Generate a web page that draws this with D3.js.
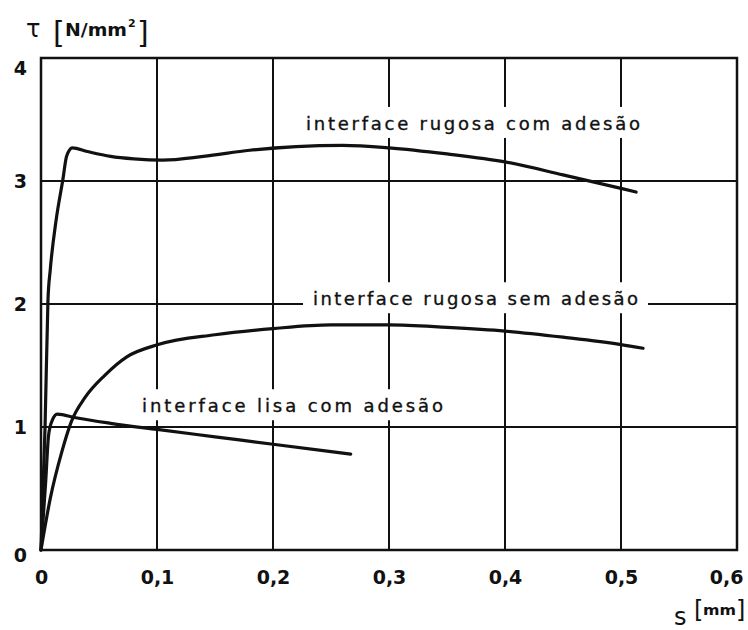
<!DOCTYPE html>
<html>
<head>
<meta charset="utf-8">
<script src="https://cdn.jsdelivr.net/npm/d3@7"></script>
<style>
  body { margin: 0; background: #fff; }
  svg { display: block; }
  text { fill: #111; font-family: "DejaVu Sans", sans-serif; }
</style>
</head>
<body>
<svg id="chart" width="748" height="630"></svg>
<script>
// slip s [mm] vs shear stress tau [N/mm2]
const xTicks = [0, 0.1, 0.2, 0.3, 0.4, 0.5, 0.6];
const yTicks = [0, 1, 2, 3, 4];

const rugosaComS = [0, 0.0035, 0.006, 0.008, 0.013, 0.019, 0.022, 0.027, 0.04, 0.06, 0.08, 0.105, 0.14, 0.18, 0.22, 0.26, 0.3, 0.35, 0.4, 0.45, 0.5, 0.513];
const rugosaComT = [0, 1.0, 2.03, 2.28, 2.68, 3.02, 3.2, 3.27, 3.24, 3.2, 3.18, 3.17, 3.2, 3.25, 3.28, 3.29, 3.27, 3.22, 3.155, 3.05, 2.94, 2.91];

const rugosaSemS = [0, 0.008, 0.018, 0.026, 0.038, 0.055, 0.074, 0.101, 0.15, 0.2, 0.25, 0.3, 0.35, 0.4, 0.45, 0.5, 0.519];
const rugosaSemT = [0, 0.42, 0.80, 1.04, 1.24, 1.42, 1.57, 1.67, 1.75, 1.80, 1.83, 1.83, 1.81, 1.78, 1.73, 1.67, 1.64];

const lisaComS = [0, 0.004, 0.0065, 0.0095, 0.014, 0.03, 0.06, 0.1, 0.15, 0.2, 0.267];
const lisaComT = [0, 0.55, 0.93, 1.05, 1.105, 1.075, 1.03, 0.98, 0.92, 0.86, 0.78];

const labelText = ["interface rugosa com adesão", "interface rugosa sem adesão", "interface lisa com adesão"];
const labelS = [0.3724, 0.3746, 0.2168];
const labelT = [3.415, 1.99, 1.12];

const svg = d3.select("#chart");
svg.append("rect").attr("width", 748).attr("height", 630).attr("fill", "#fff");

const x = d3.scaleLinear().domain([0, 0.6]).range([41, 737]);
const y = d3.scaleLinear().domain([0, 4]).range([550, 58]);
const ink = "#111";

// grid
const grid = svg.append("g").attr("stroke", ink).attr("stroke-width", 2);
grid.selectAll("line.v").data(xTicks.slice(1, -1)).enter().append("line")
    .attr("x1", d => x(d)).attr("x2", d => x(d))
    .attr("y1", y(0)).attr("y2", y(4));
grid.selectAll("line.h").data(yTicks.slice(1, -1)).enter().append("line")
    .attr("x1", x(0)).attr("x2", x(0.6))
    .attr("y1", d => y(d)).attr("y2", d => y(d));

// curve labels, white box knocks out the grid behind them
const labelWidths = [334, 325, 301];
const labels = svg.append("g");
labelText.forEach((t, i) => {
    const cx = x(labelS[i]);
    const by = y(labelT[i]);
    const w = labelWidths[i];
    labels.append("rect")
        .attr("x", cx - w / 2 - 10).attr("y", by - 23)
        .attr("width", w + 20).attr("height", 31)
        .attr("fill", "#fff");
    labels.append("text")
        .attr("x", cx - w / 2).attr("y", by)
        .attr("textLength", w).attr("lengthAdjust", "spacing")
        .attr("font-size", 18)
        .attr("stroke", ink).attr("stroke-width", 0.35)
        .text(t);
});

// curves
const line = d3.line()
    .x(d => x(d[0]))
    .y(d => y(d[1]))
    .curve(d3.curveMonotoneX);
const series = [
    d3.zip(rugosaComS, rugosaComT),
    d3.zip(rugosaSemS, rugosaSemT),
    d3.zip(lisaComS, lisaComT)
];
svg.append("g").selectAll("path").data(series).enter().append("path")
    .attr("d", line)
    .attr("fill", "none")
    .attr("stroke", ink)
    .attr("stroke-width", 3.2)
    .attr("stroke-linecap", "round")
    .attr("stroke-linejoin", "round");

// frame
svg.append("rect")
    .attr("x", x(0)).attr("y", y(4))
    .attr("width", x(0.6) - x(0)).attr("height", y(0) - y(4))
    .attr("fill", "none").attr("stroke", ink).attr("stroke-width", 2.5);

// axes (labels only)
const xFmt = d => d === 0 ? "0" : d.toFixed(1).replace(".", ",");
const xAxis = svg.append("g")
    .attr("transform", "translate(0," + y(0) + ")")
    .call(d3.axisBottom(x).tickValues(xTicks).tickFormat(xFmt).tickSize(0).tickPadding(21));
const yAxis = svg.append("g")
    .attr("transform", "translate(" + x(0) + ",0)")
    .call(d3.axisLeft(y).tickValues(yTicks).tickFormat(d3.format("d")).tickSize(0).tickPadding(14));
[xAxis, yAxis].forEach(a => {
    a.select(".domain").remove();
    a.selectAll("text")
        .attr("fill", ink)
        .attr("font-family", "DejaVu Sans, sans-serif")
        .attr("font-size", 19)
        .attr("font-weight", "bold");
});
// last x label sits inside the frame edge
xAxis.selectAll("text").filter(d => d === 0.6)
    .attr("text-anchor", "end").attr("dx", 6);
yAxis.selectAll("text").filter(d => d === 4).attr("dy", "0.85em");
yAxis.selectAll("text").filter(d => d === 0).attr("dy", "0.6em");

// axis titles
const yTitle = svg.append("g");
yTitle.append("text").attr("x", 26).attr("y", 37).attr("font-size", 24).text("τ");
yTitle.append("text").attr("x", 53).attr("y", 43).attr("font-size", 30).text("[");
yTitle.append("text").attr("x", 65).attr("y", 36).attr("font-size", 17).attr("font-weight", "bold")
    .attr("textLength", 62).attr("lengthAdjust", "spacingAndGlyphs").text("N/mm");
yTitle.append("text").attr("x", 128).attr("y", 27).attr("font-size", 11).attr("font-weight", "bold").text("2");
yTitle.append("text").attr("x", 137).attr("y", 43).attr("font-size", 30).text("]");

const xTitle = svg.append("g");
xTitle.append("text").attr("x", 674).attr("y", 625).attr("font-size", 24).text("s");
xTitle.append("text").attr("x", 694).attr("y", 618).attr("font-size", 24).text("[");
xTitle.append("text").attr("x", 703).attr("y", 615).attr("font-size", 14).attr("font-weight", "bold")
    .attr("textLength", 33).attr("lengthAdjust", "spacingAndGlyphs").text("mm");
xTitle.append("text").attr("x", 736).attr("y", 618).attr("font-size", 24).text("]");
</script>
</body>
</html>
